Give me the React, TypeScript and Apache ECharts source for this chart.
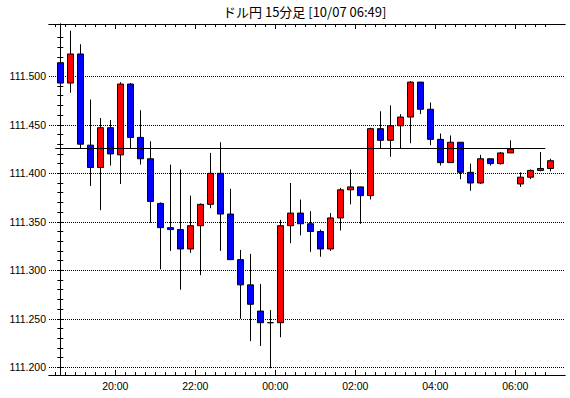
import { useEffect, useRef } from 'react';
import * as echarts from 'echarts';

const chartTitle = 'ドル円 15分足 [10/07 06:49]';

const times = [
  '18:30', '18:45', '19:00', '19:15', '19:30', '19:45',
  '20:00', '20:15', '20:30', '20:45', '21:00', '21:15', '21:30', '21:45',
  '22:00', '22:15', '22:30', '22:45', '23:00', '23:15', '23:30', '23:45',
  '00:00', '00:15', '00:30', '00:45', '01:00', '01:15', '01:30', '01:45',
  '02:00', '02:15', '02:30', '02:45', '03:00', '03:15', '03:30', '03:45',
  '04:00', '04:15', '04:30', '04:45', '05:00', '05:15', '05:30', '05:45',
  '06:00', '06:15', '06:30', '06:45',
];

const opens = [
  111.514, 111.493, 111.523, 111.429, 111.406, 111.447, 111.419, 111.492, 111.437, 111.415,
  111.369, 111.344, 111.342, 111.322, 111.346, 111.368, 111.400, 111.358, 111.311, 111.285,
  111.258, 111.246, 111.246, 111.346, 111.359, 111.348, 111.340, 111.322, 111.354, 111.383,
  111.386, 111.377, 111.446, 111.434, 111.449, 111.458, 111.494, 111.466, 111.435, 111.411,
  111.432, 111.401, 111.390, 111.415, 111.410, 111.421, 111.389, 111.396, 111.403, 111.405,
];
const closes = [
  111.493, 111.523, 111.430, 111.406, 111.447, 111.420, 111.492, 111.437, 111.415, 111.371,
  111.344, 111.342, 111.322, 111.346, 111.368, 111.400, 111.358, 111.311, 111.285, 111.265,
  111.246, 111.246, 111.346, 111.359, 111.348, 111.340, 111.322, 111.354, 111.383, 111.386,
  111.377, 111.446, 111.434, 111.449, 111.458, 111.494, 111.466, 111.435, 111.411, 111.432,
  111.401, 111.390, 111.415, 111.410, 111.421, 111.425, 111.396, 111.403, 111.405, 111.413,
];
const lows = [
  111.445, 111.483, 111.426, 111.387, 111.362, 111.408, 111.389, 111.425, 111.409, 111.349,
  111.301, 111.320, 111.280, 111.318, 111.295, 111.364, 111.320, 111.311, 111.250, 111.227,
  111.222, 111.199, 111.231, 111.328, 111.336, 111.319, 111.314, 111.320, 111.341, 111.368,
  111.348, 111.373, 111.426, 111.417, 111.425, 111.431, 111.461, 111.429, 111.408, 111.411,
  111.394, 111.382, 111.389, 111.408, 111.409, 111.421, 111.386, 111.394, 111.402, 111.402,
];
const highs = [
  111.531, 111.547, 111.533, 111.476, 111.457, 111.455, 111.494, 111.493, 111.465, 111.433,
  111.370, 111.409, 111.404, 111.377, 111.369, 111.421, 111.432, 111.384, 111.321, 111.317,
  111.286, 111.259, 111.352, 111.390, 111.373, 111.361, 111.342, 111.359, 111.385, 111.404,
  111.386, 111.447, 111.464, 111.470, 111.461, 111.495, 111.494, 111.473, 111.441, 111.439,
  111.432, 111.410, 111.419, 111.415, 111.422, 111.434, 111.401, 111.404, 111.422, 111.415,
];

const timeLabels = ['20:00', '22:00', '00:00', '02:00', '04:00', '06:00'];
const priceLabels = [111.2, 111.25, 111.3, 111.35, 111.4, 111.45, 111.5];
const refLevel = 111.426;
const refFrom = '18:30';
const refTo = '06:30';

const LABEL_FONT = 'Liberation Sans';

export default function App() {
  const ref = useRef<HTMLDivElement>(null);

  useEffect(() => {
    if (!ref.current) return;
    const chart = echarts.init(ref.current, null, { renderer: 'svg' });

    const candles = times.map((_, i) => [i, opens[i], closes[i], lows[i], highs[i]]);
    const majorX = timeLabels.map((t) => times.indexOf(t) - 0.5);
    const minorX = times.map((_, i) => i - 0.5);
    const minorY: number[] = [];
    for (let k = 0; k <= 34; k++) minorY.push(+(111.2 + k * 0.01).toFixed(2));

    const xMin = -1.13;
    const xMax = 50.47;
    const yMin = 111.1921;
    const yMax = 111.5539;

    const baseX = {
      type: 'value' as const,
      min: xMin,
      max: xMax,
      splitLine: { show: false },
      axisLine: { show: true, lineStyle: { color: '#000', width: 1 } },
    };
    const baseY = {
      type: 'value' as const,
      min: yMin,
      max: yMax,
      scale: true,
      splitLine: { show: false },
      axisLine: { show: true, lineStyle: { color: '#000', width: 1 } },
    };

    chart.setOption({
      animation: false,
      backgroundColor: '#ffffff',
      title: {
        text: chartTitle,
        left: 223,
        top: 5,
        padding: 0,
        textStyle: {
          fontSize: 13,
          fontWeight: 'normal',
          color: '#000',
          fontFamily: 'Noto Sans CJK JP',
        },
      },
      grid: { left: 49, right: 5, top: 24, bottom: 23 },
      xAxis: [
        {
          ...baseX,
          position: 'bottom',
          axisTick: {
            show: true,
            inside: true,
            length: 5,
            customValues: majorX,
            lineStyle: { color: '#000' },
          },
          axisLabel: {
            show: true,
            customValues: majorX,
            formatter: (v: number) => times[Math.round(v + 0.5)],
            color: '#000',
            fontSize: 10.5,
            fontFamily: LABEL_FONT,
            margin: 5,
          },
        },
        {
          ...baseX,
          position: 'bottom',
          axisTick: { show: true, inside: true, length: 3, customValues: minorX, lineStyle: { color: '#000' } },
          axisLabel: { show: false },
        },
        {
          ...baseX,
          position: 'top',
          axisTick: { show: true, inside: true, length: 5, customValues: majorX, lineStyle: { color: '#000' } },
          axisLabel: { show: false },
        },
        {
          ...baseX,
          position: 'top',
          axisTick: { show: true, inside: true, length: 3, customValues: minorX, lineStyle: { color: '#000' } },
          axisLabel: { show: false },
        },
      ],
      yAxis: [
        {
          ...baseY,
          position: 'left',
          axisTick: { show: true, inside: true, length: 3, customValues: minorY, lineStyle: { color: '#000' } },
          axisLabel: {
            show: true,
            customValues: priceLabels,
            formatter: (v: number) => v.toFixed(3),
            color: '#000',
            fontSize: 10.5,
            fontFamily: LABEL_FONT,
            margin: 3,
          },
        },
        {
          ...baseY,
          position: 'right',
          axisTick: { show: true, inside: true, length: 3, customValues: minorY, lineStyle: { color: '#000' } },
          axisLabel: { show: false },
        },
      ],
      series: [
        {
          type: 'line',
          xAxisIndex: 0,
          yAxisIndex: 0,
          data: [],
          silent: true,
          z: 1,
          markLine: {
            silent: true,
            z: 1,
            symbol: ['none', 'none'],
            label: { show: false },
            emphasis: { disabled: true },
            lineStyle: { color: '#000', type: [1, 1], width: 1 },
            data: priceLabels.map((p) => ({ yAxis: p })),
          },
        },
        {
          type: 'candlestick',
          xAxisIndex: 0,
          yAxisIndex: 0,
          z: 3,
          barWidth: 6,
          data: candles,
          encode: { x: 0, y: [1, 2, 3, 4] },
          itemStyle: {
            color: '#ff0000',
            color0: '#0000ff',
            borderColor: '#000',
            borderColor0: '#000',
            borderWidth: 1,
          },
          emphasis: { disabled: true },
          markLine: {
            silent: true,
            z: 6,
            symbol: ['none', 'none'],
            label: { show: false },
            emphasis: { disabled: true },
            lineStyle: { color: '#000', type: 'solid', width: 1 },
            data: [
              [
                { coord: [times.indexOf(refFrom) - 0.5, refLevel] },
                { coord: [times.indexOf(refTo) + 0.5, refLevel] },
              ],
            ],
          },
        },
      ],
    });

    return () => chart.dispose();
  }, []);

  return (
    <div
      ref={ref}
      style={{ position: 'absolute', left: 0, top: 0, width: 570, height: 398, background: '#fff' }}
    />
  );
}
